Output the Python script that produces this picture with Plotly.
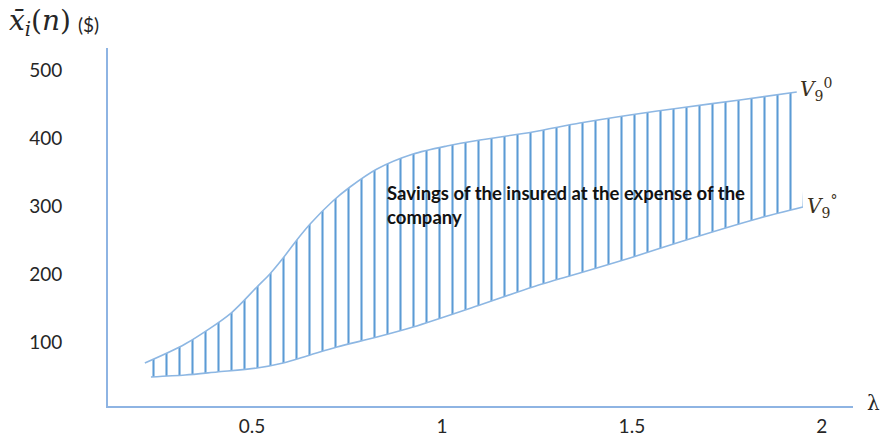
import plotly.graph_objects as go

# Upper boundary curve (V9^0)
upper_lambda = [0.218, 0.324, 0.445, 0.513, 0.547, 0.582, 0.618, 0.653, 0.713, 0.758,
                0.829, 0.924, 1.013, 1.100, 1.239, 1.363, 1.495, 1.626, 1.784, 1.934]
upper_value = [70.3, 98.2, 143.8, 182.1, 201.2, 224.7, 251.2, 274.7, 308.5, 329.1,
               355.6, 377.6, 389.4, 398.2, 410.0, 423.2, 435.0, 445.3, 457.1, 468.8]

# Lower boundary curve (V9°)
lower_lambda = [0.234, 0.324, 0.408, 0.513, 0.582, 0.653, 0.724, 0.829, 0.924, 1.100,
                1.239, 1.363, 1.495, 1.626, 1.837, 1.950]
lower_value = [49.7, 52.6, 57.1, 62.9, 70.3, 82.1, 93.8, 108.5, 123.2, 155.6,
               182.1, 202.6, 224.7, 248.2, 283.5, 299.7]

x_ticks = [0.5, 1, 1.5, 2]
x_tick_labels = ["0.5", "1", "1.5", "2"]
y_ticks = [100, 200, 300, 400, 500]
y_tick_labels = ["100", "200", "300", "400", "500"]

CURVE = "#8DB7E3"
HATCH = "#5B9BD5"
AXIS = "#8EB4E3"
TXT = "#262626"

fig = go.Figure()
fig.add_trace(go.Scatter(x=lower_lambda, y=lower_value, mode="lines",
                         line=dict(color=CURVE, width=1.6, shape="spline", smoothing=0.8),
                         hoverinfo="skip", showlegend=False))
fig.add_trace(go.Scatter(x=upper_lambda, y=upper_value, mode="lines",
                         line=dict(color=CURVE, width=1.6, shape="spline", smoothing=0.8),
                         fill="tonexty", fillcolor="rgba(0,0,0,0)",
                         fillpattern=dict(shape="|", fgcolor=HATCH, size=13, solidity=0.16,
                                          fillmode="replace"),
                         hoverinfo="skip", showlegend=False))

W, H = 880, 439
L, R, T, B = 108, 27, 48, 33

def px(xp):
    return (xp - L) / (W - L - R)

def py(yp):
    return (H - B - yp) / (H - T - B)

annotations = [
    dict(x=px(7), y=py(22), xanchor="left", yanchor="middle",
         text="<i>x̄</i><sub><i>i</i></sub>(<i>n</i>)",
         font=dict(family="DejaVu Serif", size=28, color=TXT)),
    dict(x=px(76), y=py(24), xanchor="left", yanchor="middle",
         text="($)", font=dict(family="Lato", size=19, color=TXT)),
    dict(x=px(865), y=py(403), xanchor="left", yanchor="middle",
         text="λ", font=dict(family="DejaVu Serif", size=20, color=TXT)),
    dict(x=px(798), y=py(89), xanchor="left", yanchor="middle",
         text="<i>V</i><sub>9</sub><sup>0</sup>",
         font=dict(family="DejaVu Serif", size=20, color="#3b3020")),
    dict(x=px(805), y=py(207), xanchor="left", yanchor="middle",
         text="<i>V</i><sub>9</sub><sup>°</sup>",
         font=dict(family="DejaVu Serif", size=20, color="#3b3020")),
    dict(x=px(385), y=py(205), xanchor="left", yanchor="middle", align="left",
         text="<b>Savings of the insured at the expense of the<br>company</b>",
         font=dict(family="Lato", size=18.5, color="#111111")),
]
for a in annotations:
    a.update(xref="paper", yref="paper", showarrow=False)

fig.update_layout(
    width=W, height=H,
    margin=dict(l=L, r=R, t=T, b=B, pad=0, autoexpand=False),
    paper_bgcolor="white", plot_bgcolor="white",
    showlegend=False,
    annotations=annotations,
    xaxis=dict(range=[0.121, 2.082], showgrid=False, zeroline=False,
               showline=True, linecolor=AXIS, linewidth=2, automargin=False,
               tickvals=x_ticks, ticktext=x_tick_labels, ticks="",
               ticklabelstandoff=2,
               tickfont=dict(family="Lato", size=19, color=TXT)),
    yaxis=dict(range=[7.06, 533.5], showgrid=False, zeroline=False,
               showline=True, linecolor=AXIS, linewidth=2, automargin=False,
               tickvals=y_ticks, ticktext=y_tick_labels, ticks="",
               ticklabelstandoff=40,
               tickfont=dict(family="Lato", size=19, color=TXT)),
)

fig.write_html("out.html", config={"displayModeBar": False},
               post_script="document.body.style.margin='0';")
